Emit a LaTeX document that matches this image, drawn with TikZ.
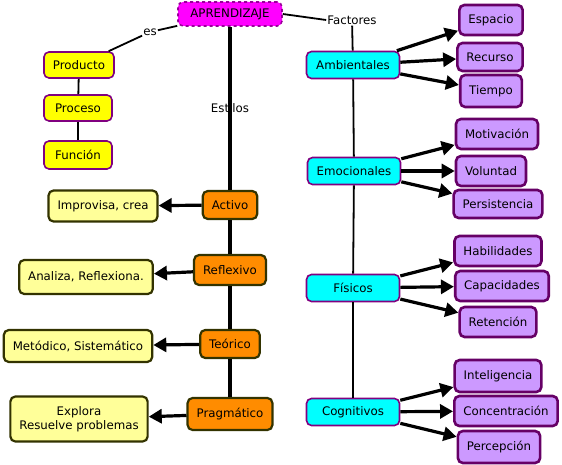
\documentclass[tikz,border=0pt]{standalone}
\usepackage{fontspec}
\setmainfont{DejaVu Sans}
\usetikzlibrary{arrows.meta}
\definecolor{rosa}{HTML}{FF00FF}
\definecolor{rosaborde}{HTML}{990099}
\definecolor{morado}{HTML}{800080}
\definecolor{moradoosc}{HTML}{660066}
\definecolor{amarillo}{HTML}{FFFF00}
\definecolor{crema}{HTML}{FFFF99}
\definecolor{naranja}{HTML}{FF8C00}
\definecolor{oliva}{HTML}{333300}
\definecolor{cian}{HTML}{00FFFF}
\definecolor{lila}{HTML}{CC99FF}

\begin{document}
\begin{tikzpicture}[
  x=1pt, y=-1pt,
  font=\fontsize{11.8}{14}\selectfont,
  base/.style={rectangle, rounded corners=5pt, inner xsep=9pt, inner ysep=2pt, align=center},
  raiz/.style={base, draw=rosaborde, fill=rosa, dashed, line width=1.6pt, minimum width=104pt, minimum height=24pt},
  tipo/.style={base, draw=morado, fill=amarillo, line width=1.6pt, minimum width=68pt, minimum height=26pt},
  estilo/.style={base, draw=oliva, fill=naranja, line width=2.2pt, minimum height=28pt},
  rasgo/.style={base, draw=oliva, fill=crema, line width=2.2pt, minimum height=31pt},
  factor/.style={base, draw=morado, fill=cian, line width=1.6pt, minimum width=93pt, minimum height=27pt},
  item/.style={base, draw=moradoosc, fill=lila, line width=2.6pt, minimum height=30pt},
  lbl/.style={inner sep=1pt},
  linea/.style={line width=1.8pt},
  eje/.style={line width=3.2pt},
  flecha/.style={-{Triangle[length=13pt, width=14pt]}, line width=3.2pt},
]
\useasboundingbox (0,0) rectangle (562,465);

% --- Concepto central ---
\node[raiz] (apr) at (230,14) {APRENDIZAJE};
\node[lbl] (es) at (150,32) {es};
\node[lbl] (fac) at (352,20) {Factores};
\node[lbl] (est) at (230,108) {Estilos};

% --- Producto, proceso, funcion ---
\node[tipo] (prod) at (79,65) {Producto};
\node[tipo] (proc) at (78,108) {Proceso};
\node[tipo, minimum height=28pt] (func) at (78,155) {Función};

% --- Estilos (columna central) ---
\node[estilo] (act) at (230,205) {Activo};
\node[estilo, minimum height=30pt] (ref) at (230,270) {Reflexivo};
\node[estilo] (teo) at (230,344) {Teórico};
\node[estilo, minimum height=32pt] (pra) at (230,414) {Pragmático};

% --- Rasgos de cada estilo ---
\node[rasgo] (imp) at (103,206) {Improvisa, crea};
\node[rasgo, minimum height=34pt] (ana) at (86,277) {Analiza, Reflexiona.};
\node[rasgo, minimum height=32pt] (met) at (78,346) {Metódico, Sistemático};
\node[rasgo, minimum height=45pt] (exp) at (79,419) {Explora\\Resuelve problemas};

% --- Factores (columna derecha) ---
\node[factor] (amb) at (353,65) {Ambientales};
\node[factor] (emo) at (354,171) {Emocionales};
\node[factor] (fis) at (353,288) {Físicos};
\node[factor] (cog) at (353,412) {Cognitivos};

% --- Elementos de cada factor ---
\node[item] (esp) at (491,20) {Espacio};
\node[item, minimum height=28pt] (rec) at (490,57) {Recurso};
\node[item, minimum height=32pt] (tie) at (491,91) {Tiempo};
\node[item] (mot) at (497,134) {Motivación};
\node[item] (vol) at (491,171) {Voluntad};
\node[item, minimum height=28pt] (per) at (498,204) {Persistencia};
\node[item] (hab) at (498,251) {Habilidades};
\node[item] (cap) at (502,286) {Capacidades};
\node[item] (ret) at (498,322) {Retención};
\node[item, minimum height=32pt] (int) at (498,376) {Inteligencia};
\node[item] (con) at (506,411) {Concentración};
\node[item, minimum height=32pt] (pcp) at (499,447) {Percepción};

% --- Enlaces del concepto central ---
\draw[linea] (apr) -- (es);
\draw[linea] (es) -- (prod);
\draw[linea] (prod) -- (proc);
\draw[linea] (proc) -- (func);
\draw[linea] (apr.east) -- (fac.west);
\draw[linea] (fac) -- (amb);
\draw[eje] (apr) -- (act);

% --- Cadena de estilos ---
\draw[eje] (act) -- (ref);
\draw[eje] (ref) -- (teo);
\draw[eje] (teo) -- (pra);
\draw[flecha] (act) -- (imp);
\draw[flecha] (ref) -- (ana);
\draw[flecha] (teo) -- (met);
\draw[flecha] (pra) -- (exp);

% --- Cadena de factores ---
\draw[linea] (amb) -- (emo);
\draw[linea] (emo) -- (fis);
\draw[linea] (fis) -- (cog);
\foreach \f/\a/\b/\c in {amb/esp/rec/tie, emo/mot/vol/per, fis/hab/cap/ret, cog/int/con/pcp}{
  \draw[flecha] (\f) -- (\a);
  \draw[flecha] (\f) -- (\b);
  \draw[flecha] (\f) -- (\c);
}

\end{tikzpicture}
\end{document}
